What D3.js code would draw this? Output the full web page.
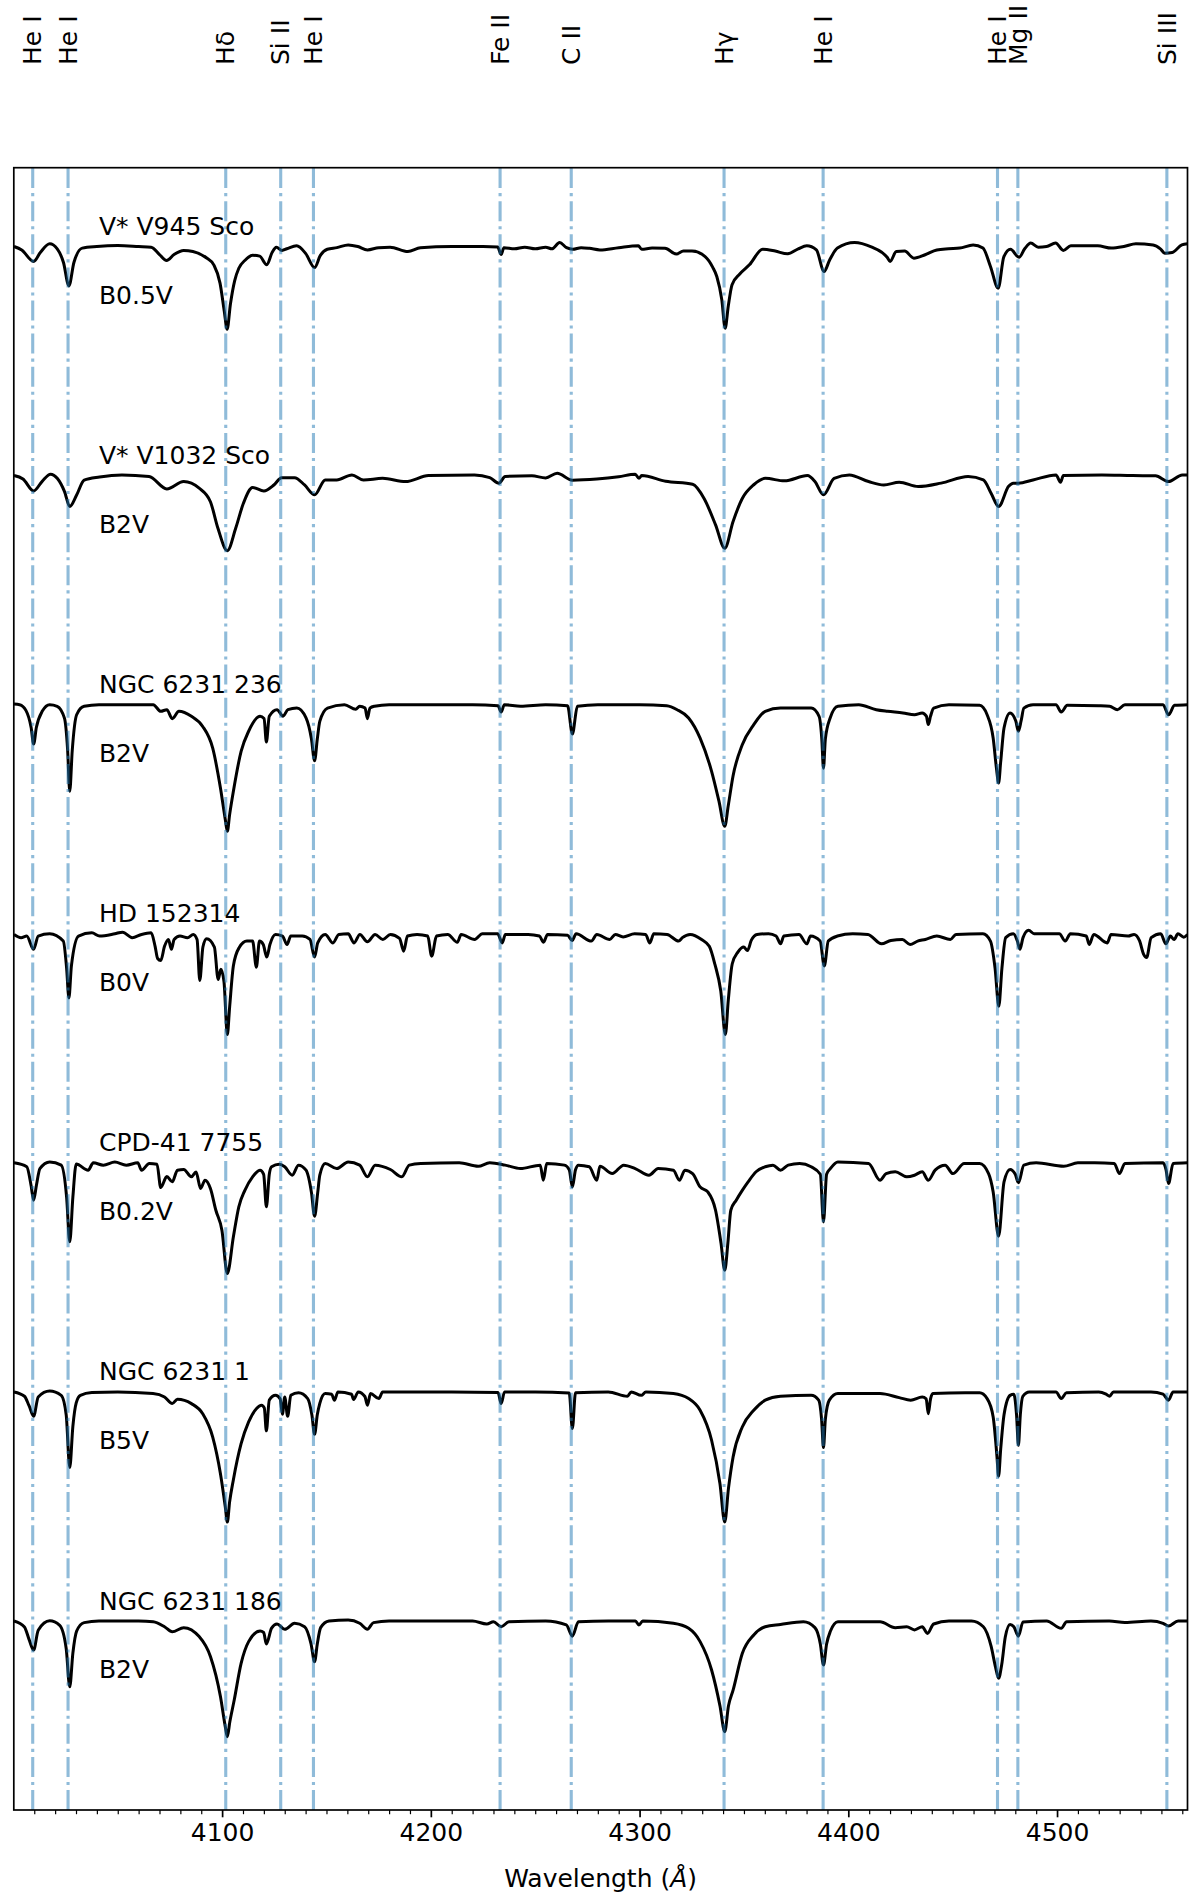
<!DOCTYPE html>
<html>
<head>
<meta charset="utf-8">
<script src="https://cdn.jsdelivr.net/npm/d3@7"></script>
<style>
  body { margin: 0; background: #fff; }
  svg { display: block; }
  text { font-family: "DejaVu Sans", sans-serif; fill: #000; }
</style>
</head>
<body>
<svg id="fig" width="1200" height="1901"></svg>
<script>
// raies identifiees (Angstrom) et leurs noms
const lineWaves = [4009.26, 4026.19, 4101.74, 4128.07, 4143.76, 4233.17, 4267.26, 4340.47, 4387.93, 4471.48, 4481.23, 4552.62];
const lineNames = ['He I', 'He I', 'Hδ', 'Si II', 'He I', 'Fe II', 'C II', 'Hγ', 'He I', 'He I', 'Mg II', 'Si III'];

const starNames = ['V* V945 Sco', 'V* V1032 Sco', 'NGC 6231 236', 'HD 152314', 'CPD-41 7755', 'NGC 6231 1', 'NGC 6231 186'];
const spTypes = ['B0.5V', 'B2V', 'B2V', 'B0V', 'B0.2V', 'B5V', 'B2V'];

const majorTicks = [4100, 4200, 4300, 4400, 4500];
const minorTicks = d3.range(4010, 4561, 10);

// spectres normalises [lambda, flux]
const v945Sco = [[4000.3,1.0],[4004,0.985],[4009.7,0.935],[4013,0.975],[4017.4,1.012],[4021,0.99],[4024,0.93],[4026.6,0.828],[4029,0.93],[4033,0.993],[4040,1.0],[4050,1.004],[4060,1.0],[4066,0.997],[4070,0.965],[4073.4,0.939],[4077,0.965],[4081.6,0.983],[4086,0.978],[4092.6,0.95],[4096,0.92],[4099,0.84],[4101,0.72],[4102.4,0.639],[4104,0.75],[4106,0.85],[4108,0.905],[4111,0.94],[4114.6,0.962],[4118,0.958],[4121.4,0.92],[4124,0.975],[4126,0.997],[4128.7,0.983],[4131,0.99],[4135.7,1.003],[4140,0.97],[4144.3,0.908],[4147,0.96],[4150.4,0.988],[4155,0.995],[4160.4,1.007],[4165,1.0],[4169.6,0.985],[4175,0.995],[4180.5,0.997],[4189,0.978],[4195,0.995],[4210,1.0],[4225,1.0],[4232,0.998],[4233.7,0.965],[4235,0.995],[4240,0.99],[4245,0.997],[4250,0.99],[4255,0.997],[4258,0.99],[4261.7,1.017],[4265,0.995],[4268,0.988],[4272,0.995],[4276,0.992],[4281,0.985],[4290,0.995],[4299.4,1.003],[4301,0.988],[4306,0.993],[4312.2,0.992],[4317.7,0.967],[4321,0.98],[4325.1,0.98],[4331.4,0.956],[4335,0.91],[4337,0.869],[4339.4,0.767],[4341,0.643],[4342.5,0.74],[4344.3,0.833],[4348,0.88],[4352.6,0.92],[4359,0.988],[4365,0.98],[4370.9,0.968],[4376,0.99],[4380.1,1.003],[4384.7,0.985],[4388.4,0.891],[4391,0.94],[4394.8,0.993],[4403,1.017],[4411.3,0.997],[4416,0.975],[4418.6,0.953],[4420,0.935],[4423,0.978],[4427,0.98],[4431.4,0.949],[4436.8,0.964],[4442.4,0.985],[4448,0.99],[4453.4,0.993],[4459.8,1.007],[4464.5,0.993],[4468.1,0.913],[4471.8,0.818],[4474.5,0.955],[4477.7,0.988],[4481.8,0.953],[4484.5,0.99],[4487.4,1.015],[4491,0.997],[4495,1.0],[4499.3,1.015],[4503,0.983],[4506.6,1.003],[4512,1.003],[4519.5,1.003],[4526,0.993],[4532,1.0],[4537.8,1.012],[4546,1.007],[4549.5,0.99],[4551.6,0.971],[4555.2,0.974],[4559.8,1.007],[4562.5,1.012]];

const v1032Sco = [[4000.3,1.0],[4004.6,0.985],[4009.7,0.933],[4013.8,0.975],[4017.8,1.006],[4021.1,0.987],[4024.5,0.93],[4027,0.865],[4030.3,0.915],[4033.9,0.98],[4041.3,0.994],[4052,1.003],[4065,0.996],[4073.5,0.942],[4081.6,0.974],[4089,0.945],[4094.4,0.886],[4098,0.77],[4102.5,0.672],[4106.5,0.77],[4110.2,0.879],[4114.6,0.948],[4120,0.933],[4124.8,0.959],[4128.5,0.991],[4134.7,0.991],[4139.5,0.959],[4144.3,0.916],[4149.4,0.981],[4154.9,0.981],[4162.2,1.003],[4167.7,0.981],[4176.9,0.988],[4187.9,0.974],[4198.9,1.0],[4220.9,1.003],[4228.2,0.991],[4232.6,0.967],[4235.6,0.996],[4248.4,0.999],[4255,0.99],[4260.5,1.01],[4267.8,0.98],[4279.5,0.985],[4290,0.995],[4297.9,1.006],[4299.7,0.988],[4301,1.0],[4312.5,0.975],[4325.4,0.962],[4330.9,0.9],[4336.4,0.785],[4340.8,0.683],[4344.8,0.8],[4349.2,0.9],[4354.7,0.96],[4360.2,0.988],[4369.4,0.977],[4380.4,1.0],[4384,0.974],[4388.1,0.916],[4393.2,0.988],[4400.5,1.003],[4409.7,0.974],[4417,0.959],[4424.4,0.971],[4433.5,0.952],[4444.5,0.967],[4457.4,0.996],[4464.7,0.981],[4468.4,0.923],[4472,0.865],[4476.8,0.953],[4479,0.967],[4481.5,0.967],[4488.5,0.981],[4499.5,1.003],[4501.7,0.971],[4503,1.0],[4521.5,1.003],[4536.2,1.0],[4547.2,0.999],[4553.4,0.974],[4560,1.003],[4562.5,1.003]];

const ngc6231_236 = [[4000.3,1.003],[4003,1.0],[4006,0.975],[4008.5,0.9],[4009.7,0.828],[4011,0.9],[4013.8,0.971],[4017.4,1.0],[4021,0.993],[4024.5,0.94],[4026,0.8],[4027,0.622],[4028.2,0.8],[4030.3,0.956],[4033.9,0.993],[4041,1.0],[4055,1.0],[4067,1.0],[4070.6,0.971],[4073.5,0.978],[4076.1,0.939],[4079.3,0.971],[4085.3,0.949],[4090.7,0.905],[4095.5,0.81],[4099.2,0.636],[4101.5,0.5],[4102.5,0.447],[4103.6,0.52],[4105.4,0.622],[4109.1,0.796],[4112.7,0.884],[4118.2,0.949],[4120.1,0.94],[4121.2,0.837],[4122.6,0.949],[4126.3,0.978],[4129.2,0.95],[4131.5,0.978],[4135.8,0.985],[4140.2,0.942],[4142.8,0.85],[4144.3,0.755],[4145.6,0.85],[4146.8,0.927],[4150.5,0.985],[4158.6,1.0],[4164,0.98],[4165.9,0.993],[4168.5,0.985],[4169.6,0.939],[4170.8,0.985],[4173,0.993],[4180,1.0],[4200,1.0],[4220,1.0],[4232.2,0.995],[4233.7,0.968],[4235.2,1.0],[4243,0.993],[4255,1.0],[4265.5,0.995],[4267.8,0.872],[4270.2,0.993],[4280,1.0],[4300,1.0],[4313,0.995],[4318,0.978],[4323.5,0.942],[4329,0.854],[4334.5,0.709],[4338,0.58],[4340.8,0.469],[4342.5,0.56],[4344.8,0.69],[4349.2,0.825],[4354.7,0.913],[4360.2,0.971],[4367.5,0.985],[4382.2,0.985],[4386,0.949],[4387.3,0.85],[4388.1,0.723],[4389,0.85],[4391.3,0.942],[4395,0.993],[4405,1.0],[4413.4,0.978],[4418.8,0.971],[4426.2,0.964],[4431.7,0.956],[4435.4,0.964],[4437.4,0.95],[4438.3,0.913],[4439.4,0.95],[4440.9,0.985],[4448.2,1.0],[4462.9,0.997],[4466.5,0.956],[4469.4,0.854],[4471,0.72],[4472,0.658],[4473,0.75],[4474.6,0.898],[4477.5,0.964],[4480.2,0.93],[4481.5,0.884],[4482.8,0.93],[4484.1,0.985],[4488.5,1.0],[4499.5,1.0],[4502,0.968],[4504.9,0.997],[4520,0.995],[4525.2,0.993],[4528.9,0.978],[4532.5,1.0],[4550.8,1.0],[4553.4,0.956],[4556.3,0.997],[4562.5,1.0]];

const hd152314 = [[4000.3,0.997],[4003.7,0.983],[4006.4,0.99],[4009.7,0.932],[4011.9,0.99],[4017.4,1.0],[4023.9,0.968],[4025.5,0.85],[4026.6,0.72],[4027.8,0.86],[4031.2,0.99],[4037.6,1.004],[4041.3,0.99],[4048.6,1.0],[4052.3,1.007],[4056.9,0.983],[4061.4,0.997],[4066,1.004],[4067.9,0.945],[4069.1,0.892],[4070.6,0.883],[4072.4,0.945],[4074.3,0.975],[4075.7,0.932],[4077,0.975],[4079.8,0.99],[4083.4,0.983],[4086.2,0.997],[4088,0.975],[4089.3,0.796],[4090.8,0.942],[4092.6,0.978],[4096.3,0.942],[4098.1,0.8],[4099.4,0.845],[4100.9,0.79],[4102.5,0.56],[4103.6,0.68],[4105.4,0.86],[4108.2,0.94],[4111.9,0.968],[4114.6,0.968],[4116.4,0.854],[4117.9,0.968],[4119.7,0.953],[4121.4,0.898],[4122.9,0.953],[4125.6,0.997],[4128.9,0.99],[4131.1,0.953],[4132.9,0.99],[4138.4,0.99],[4142.1,0.975],[4144.3,0.898],[4145.8,0.96],[4149.4,0.997],[4153.1,0.96],[4155.9,0.997],[4160.4,1.0],[4163.2,0.96],[4166,0.997],[4169.6,0.965],[4173.3,0.997],[4177,0.975],[4180.6,0.997],[4185,0.98],[4187,0.924],[4188.8,0.99],[4193.4,0.997],[4198.5,0.99],[4200.4,0.902],[4202.7,0.99],[4208.1,0.997],[4212.7,0.963],[4214.5,0.997],[4221,0.975],[4224.7,1.0],[4232,1.0],[4234.2,0.96],[4235.7,0.997],[4246.6,0.997],[4252,0.99],[4254,0.963],[4255.9,0.997],[4265.5,0.993],[4267.7,0.971],[4269.6,1.0],[4276.9,0.968],[4279.5,0.997],[4285.7,0.975],[4288.4,0.997],[4292.1,0.986],[4297.6,1.0],[4302.9,0.997],[4304.9,0.96],[4306.8,1.0],[4313.2,0.997],[4318.7,0.968],[4320.5,0.983],[4324.2,0.997],[4329.7,0.975],[4333.4,0.945],[4336.1,0.866],[4338.9,0.75],[4341.1,0.56],[4342.5,0.71],[4344.4,0.869],[4347.1,0.92],[4349.9,0.942],[4351.7,0.927],[4353.5,0.971],[4356.3,0.997],[4361.8,1.0],[4365.4,0.99],[4367.6,0.956],[4369.1,0.99],[4376.4,0.997],[4380.1,0.956],[4381.9,0.99],[4386.5,0.968],[4388.5,0.859],[4390.4,0.968],[4394.8,0.99],[4402.1,1.0],[4409.4,0.997],[4415.9,0.956],[4420.4,0.971],[4425.9,0.975],[4429.6,0.953],[4433.2,0.968],[4436.9,0.975],[4442.4,0.99],[4448.9,0.975],[4451.6,0.997],[4464.5,1.0],[4468.1,0.968],[4470.3,0.85],[4472.1,0.684],[4473.6,0.85],[4475.4,0.983],[4479.1,1.0],[4481,0.968],[4482.2,0.932],[4483.7,0.983],[4486.4,1.015],[4489,1.0],[4501.1,1.0],[4503.9,0.968],[4506.4,1.0],[4514,0.99],[4515.4,0.953],[4517.6,0.997],[4524,0.96],[4525.9,0.997],[4534.1,0.99],[4536.9,0.997],[4539.5,0.97],[4541.5,0.91],[4542.9,0.896],[4545.1,0.983],[4549.7,1.0],[4552.1,0.956],[4554.3,0.99],[4556.1,0.975],[4557.9,1.0],[4560.7,0.985],[4562.5,0.997]];

const cpd41_7755 = [[4000.3,1.0],[4006.4,0.983],[4008.5,0.9],[4009.7,0.837],[4011,0.9],[4012.7,0.975],[4017.4,1.004],[4022.9,0.99],[4025.5,0.85],[4027,0.655],[4028.5,0.85],[4030.1,0.995],[4035.8,0.968],[4038.3,1.0],[4043.1,0.99],[4048.6,1.004],[4054.1,0.99],[4059.6,1.0],[4061.4,0.968],[4065.1,0.997],[4068.8,0.994],[4070.6,0.892],[4073.5,0.94],[4076.1,0.917],[4078.6,0.968],[4081.6,0.971],[4085.3,0.939],[4087.5,0.96],[4089.7,0.888],[4091.8,0.924],[4094.4,0.888],[4097,0.793],[4099.9,0.706],[4102.5,0.517],[4105.4,0.677],[4108,0.808],[4110.9,0.88],[4114.6,0.939],[4118.2,0.968],[4119.9,0.95],[4121.2,0.808],[4122.6,0.95],[4123.7,0.983],[4127.4,0.994],[4130,0.983],[4133.6,0.946],[4136.6,0.99],[4140.2,0.968],[4142.8,0.87],[4144.3,0.767],[4145.8,0.87],[4146.8,0.946],[4149.4,0.997],[4154.9,0.975],[4160.4,1.004],[4165.9,0.99],[4169.6,0.939],[4173.3,0.99],[4180.6,0.971],[4186.1,0.939],[4189.7,0.99],[4195.2,0.997],[4213.6,1.0],[4222.7,0.985],[4228.2,1.0],[4235.6,0.99],[4242.9,0.975],[4252.4,0.99],[4253.9,0.924],[4255.5,0.997],[4264,0.99],[4266.3,0.97],[4267.8,0.895],[4269.3,0.97],[4270.7,0.99],[4275.9,0.983],[4279.5,0.924],[4281,0.985],[4286.9,0.953],[4292.4,0.99],[4297.9,0.975],[4304.5,0.946],[4308.9,0.975],[4316.2,0.968],[4319.1,0.924],[4321.7,0.968],[4325.4,0.953],[4329,0.895],[4332.7,0.873],[4336.4,0.793],[4339,0.65],[4340.8,0.531],[4342.3,0.65],[4343.7,0.793],[4346.3,0.837],[4349.2,0.88],[4352,0.917],[4355.8,0.961],[4360.2,0.983],[4363.9,0.99],[4367.5,0.968],[4371.2,0.99],[4376.7,0.997],[4382.2,0.983],[4386.6,0.95],[4388.1,0.742],[4389.6,0.95],[4391.4,0.975],[4395,1.004],[4409.7,0.997],[4415.2,0.924],[4418.1,0.953],[4422.5,0.961],[4428,0.939],[4431.7,0.946],[4435.4,0.961],[4438.3,0.924],[4441.6,0.968],[4446.4,0.99],[4450.1,0.953],[4455.5,0.997],[4462.9,0.997],[4467.2,0.953],[4469.4,0.873],[4472,0.68],[4474.6,0.917],[4477.5,0.971],[4480,0.95],[4481.5,0.913],[4484.1,0.99],[4490,1.0],[4503.2,0.985],[4510,1.0],[4518,1.0],[4527.4,0.997],[4529.9,0.953],[4532.5,0.997],[4550.8,1.0],[4552.2,0.97],[4553.4,0.91],[4555.6,0.997],[4562.5,1.0]];

const ngc6231_1 = [[4000.3,1.0],[4005.3,0.981],[4007.5,0.94],[4009.7,0.894],[4011.9,0.978],[4017.4,1.004],[4022.9,0.985],[4025.3,0.9],[4027,0.67],[4028.5,0.85],[4030.1,0.952],[4032.1,0.985],[4037.6,0.997],[4050,1.0],[4066.9,0.993],[4072.4,0.978],[4076.1,0.949],[4078.6,0.968],[4085.3,0.949],[4090.7,0.905],[4095.5,0.803],[4099.2,0.643],[4101.5,0.5],[4102.5,0.432],[4103.6,0.52],[4105.4,0.617],[4109.1,0.774],[4112.7,0.869],[4116.4,0.927],[4118.9,0.942],[4120.2,0.93],[4121.2,0.83],[4122.6,0.964],[4125.6,0.985],[4127.8,0.97],[4128.9,0.902],[4130,0.978],[4131.4,0.894],[4132.9,0.985],[4136.6,0.996],[4141,0.971],[4143,0.9],[4144.3,0.815],[4145.6,0.9],[4146.8,0.95],[4149.4,0.993],[4152.5,0.99],[4153.8,0.964],[4155.5,1.0],[4162,0.99],[4163,0.967],[4165.2,1.0],[4168.4,0.98],[4169.6,0.942],[4171.1,0.993],[4175.1,0.971],[4176.9,1.0],[4190,1.0],[4210,1.0],[4232.2,0.997],[4233.7,0.949],[4235.3,1.0],[4250,1.0],[4266.3,0.995],[4267.8,0.84],[4269.3,0.996],[4285,1.0],[4294.2,0.981],[4296,1.0],[4300.8,0.985],[4303,1.0],[4316.2,0.993],[4323.5,0.971],[4329,0.92],[4334.5,0.789],[4338.5,0.6],[4340.8,0.432],[4342.6,0.58],[4344.8,0.716],[4349.2,0.847],[4354.7,0.92],[4360.2,0.964],[4367.5,0.981],[4382.2,0.985],[4385.8,0.964],[4387.2,0.88],[4388.1,0.757],[4389,0.88],[4390.9,0.964],[4395,0.993],[4415.2,0.993],[4424.4,0.975],[4429.9,0.964],[4435.4,0.978],[4437.3,0.97],[4438.3,0.905],[4439.4,0.97],[4440.5,0.993],[4456,0.996],[4462.9,0.996],[4466.5,0.971],[4469.4,0.891],[4471.2,0.72],[4472,0.632],[4473,0.75],[4474.6,0.9],[4477.5,0.985],[4479.3,0.99],[4480.6,0.9],[4481.5,0.767],[4482.4,0.9],[4483.6,0.981],[4486.7,1.0],[4499.5,1.0],[4502,0.971],[4504.5,0.996],[4520,1.0],[4523.5,0.99],[4525.2,0.981],[4527,1.0],[4545,1.0],[4550.8,0.99],[4553.4,0.964],[4555.6,1.0],[4562.5,1.0]];

const ngc6231_186 = [[4000.3,1.0],[4005.3,0.974],[4007.5,0.92],[4009.7,0.873],[4011.9,0.96],[4017.4,1.001],[4022.2,0.981],[4025.3,0.88],[4027,0.713],[4028.5,0.86],[4030.3,0.956],[4033.9,0.993],[4041,1.0],[4060,1.0],[4067,0.997],[4072.4,0.975],[4076.1,0.953],[4081.6,0.971],[4089,0.932],[4094.4,0.845],[4099.2,0.67],[4101.5,0.54],[4102.5,0.495],[4103.7,0.56],[4105.8,0.655],[4109.1,0.815],[4112.7,0.91],[4118.2,0.956],[4119.9,0.95],[4121.2,0.9],[4123.7,0.969],[4126.3,0.987],[4130,0.964],[4134.7,0.99],[4139.5,0.975],[4142.6,0.9],[4144.3,0.822],[4145.6,0.9],[4147.2,0.971],[4151.2,1.0],[4160.4,1.004],[4165.9,0.99],[4169.6,0.964],[4172.5,0.993],[4180,1.0],[4200,1.0],[4220,1.0],[4226.8,0.987],[4230,0.997],[4233.7,0.975],[4237.4,0.997],[4255,1.0],[4264.9,0.983],[4267.8,0.934],[4270.7,0.997],[4285,1.0],[4298,1.0],[4299.7,0.983],[4301.5,1.0],[4316.2,0.99],[4323.5,0.968],[4329,0.91],[4334.5,0.786],[4338.5,0.63],[4340.8,0.517],[4342.6,0.63],[4344.8,0.698],[4349.2,0.858],[4354.7,0.939],[4360.2,0.975],[4367.5,0.985],[4378.5,0.997],[4384,0.971],[4386.6,0.9],[4388.1,0.808],[4389.6,0.9],[4391.4,0.955],[4395,0.997],[4415.2,0.997],[4422.5,0.971],[4428,0.975],[4431.7,0.961],[4435.4,0.975],[4437.9,0.946],[4440.9,0.987],[4448.2,1.0],[4459,1.0],[4464.7,0.975],[4468.4,0.89],[4470.5,0.8],[4472,0.75],[4473.5,0.81],[4475.2,0.93],[4477.5,0.985],[4479.3,0.975],[4481.5,0.934],[4483.7,0.996],[4495,1.0],[4502,0.968],[4504.6,0.997],[4525,1.0],[4532.5,0.993],[4545,1.0],[4550.8,0.99],[4553.4,0.978],[4558,1.0],[4562.5,1.0]];

const spectra = [v945Sco, v1032Sco, ngc6231_236, hd152314, cpd41_7755, ngc6231_1, ngc6231_186];

class stackspectra {
    constructor(params) {
        var me = this;
        this.svg = d3.select("#" + params.idSvg);
        this.box = params.box;                 // cadre des axes en pixels
        this.offset = params.offset ? params.offset : 1;
        this.x = d3.scaleLinear().domain([4000.2, 4562.5]).range([me.box.left, me.box.right]);
        this.y = d3.scaleLinear().domain([-5.825, 1.344]).range([me.box.bottom, me.box.top]);

        this.init = function () {
            me.svg.append("defs").append("clipPath").attr("id", "clipAxes")
                .append("rect")
                .attr("x", me.box.left).attr("y", me.box.top)
                .attr("width", me.box.right - me.box.left)
                .attr("height", me.box.bottom - me.box.top);
            me.drawSpectra();
            me.drawLines();
            me.drawLabels();
            me.drawAxes();
        };

        // les spectres, decales de 1 en flux
        this.drawSpectra = function () {
            var line = d3.line()
                .x(function (d) { return me.x(d[0]); })
                .y(function (d) { return me.y(d[1]); })
                .curve(d3.curveMonotoneX);
            me.svg.append("g").attr("clip-path", "url(#clipAxes)")
                .selectAll("path").data(spectra).enter().append("path")
                .attr("d", function (d, i) {
                    return line(d.map(function (p) { return [p[0], p[1] - i * me.offset]; }));
                })
                .attr("fill", "none")
                .attr("stroke", "#000")
                .attr("stroke-width", 3)
                .attr("stroke-linejoin", "round");
        };

        // raies verticales + noms en haut
        this.drawLines = function () {
            me.svg.append("g").attr("clip-path", "url(#clipAxes)")
                .selectAll("line").data(lineWaves).enter().append("line")
                .attr("x1", function (d) { return me.x(d); })
                .attr("x2", function (d) { return me.x(d); })
                .attr("y1", me.box.bottom)
                .attr("y2", me.box.top)
                .attr("stroke", "#1f77b4")
                .attr("stroke-opacity", 0.5)
                .attr("stroke-width", 3.1)
                .attr("stroke-dasharray", "20,5,3.1,5");

            me.svg.selectAll(".lineName").data(lineWaves).enter().append("text")
                .attr("class", "lineName")
                .attr("transform", function (d) { return "translate(" + me.x(d) + ",65) rotate(-90)"; })
                .attr("dy", "0.35em")
                .attr("text-anchor", "start")
                .style("font-size", "25px")
                .text(function (d, i) { return lineNames[i]; });
        };

        this.drawLabels = function () {
            var g = me.svg.append("g");
            g.selectAll(".starName").data(starNames).enter().append("text")
                .attr("class", "starName")
                .attr("x", me.x(4041))
                .attr("y", function (d, i) { return me.y(1.05 - i * me.offset); })
                .style("font-size", "25px")
                .text(function (d) { return d; });
            g.selectAll(".spType").data(spTypes).enter().append("text")
                .attr("class", "spType")
                .attr("x", me.x(4041))
                .attr("y", function (d, i) { return me.y(0.75 - i * me.offset); })
                .style("font-size", "25px")
                .text(function (d) { return d; });
        };

        this.drawAxes = function () {
            var ax = me.svg.append("g")
                .attr("transform", "translate(0," + me.box.bottom + ")")
                .call(d3.axisBottom(me.x).tickValues(majorTicks).tickSize(7.3).tickPadding(6).tickFormat(d3.format("d")));
            ax.select(".domain").remove();
            ax.selectAll(".tick line").attr("stroke-width", 1.7);
            ax.selectAll(".tick text").style("font-size", "25px").style("font-family", "DejaVu Sans").attr("fill", "#000");

            var minor = me.svg.append("g")
                .attr("transform", "translate(0," + me.box.bottom + ")")
                .call(d3.axisBottom(me.x).tickValues(minorTicks.filter(function (d) { return d % 100 !== 0; })).tickSize(4.2).tickFormat(""));
            minor.select(".domain").remove();
            minor.selectAll(".tick line").attr("stroke-width", 1.2);

            // cadre
            me.svg.append("rect")
                .attr("x", me.box.left).attr("y", me.box.top)
                .attr("width", me.box.right - me.box.left)
                .attr("height", me.box.bottom - me.box.top)
                .attr("fill", "none").attr("stroke", "#000").attr("stroke-width", 1.7);

            var lbl = me.svg.append("text")
                .attr("x", (me.box.left + me.box.right) / 2)
                .attr("y", 1887)
                .attr("text-anchor", "middle")
                .style("font-size", "25px");
            lbl.append("tspan").text("Wavelength (");
            lbl.append("tspan").style("font-style", "italic").text("Å");
            lbl.append("tspan").text(")");
        };

        this.init();
    }
}

var fig = new stackspectra({
    idSvg: "fig",
    box: {left: 13.8, right: 1187.5, top: 167.7, bottom: 1810},
    offset: 1
});
</script>
</body>
</html>
